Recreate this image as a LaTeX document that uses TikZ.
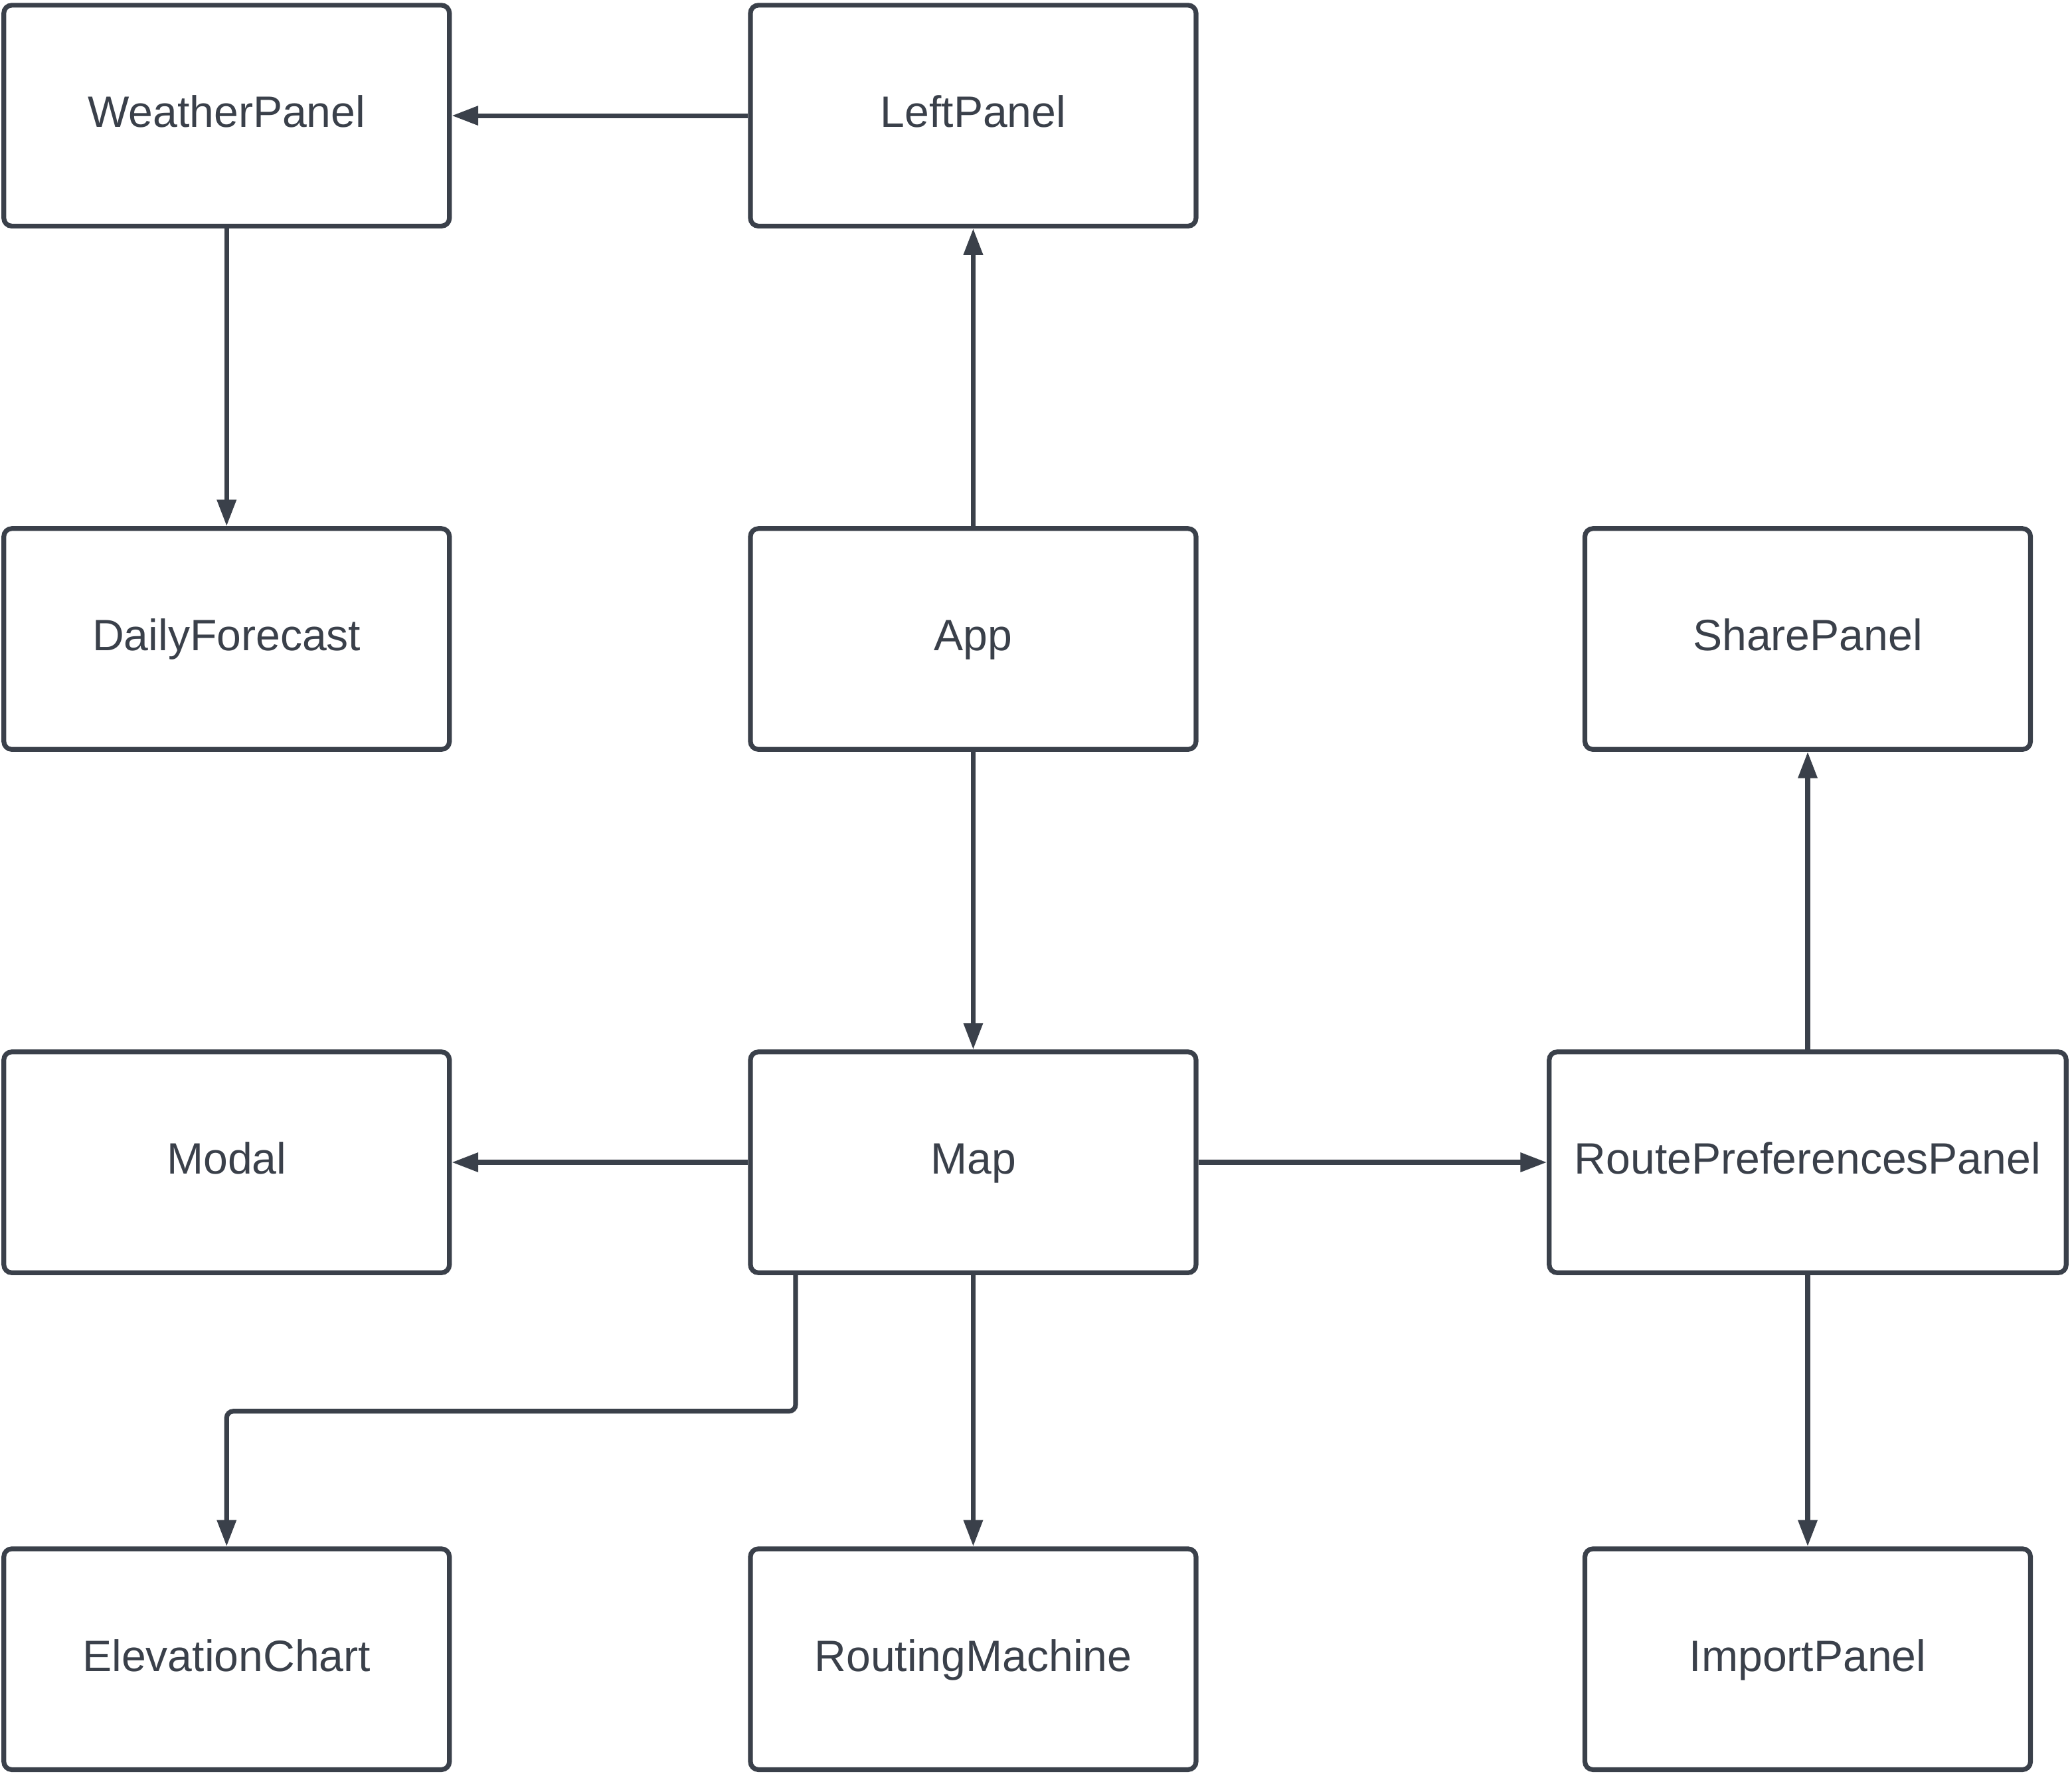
\documentclass[tikz,border=0pt]{standalone}
\usepackage{fontspec}
\setmainfont{Liberation Sans}
\usepackage{tikz}
\usetikzlibrary{arrows.meta, calc}
\definecolor{linegray}{RGB}{58,64,74}

\begin{document}
\begin{tikzpicture}[x=0.01cm, y=-0.01cm,
        comp/.style={draw=linegray, line width=0.036cm, rounded corners=0.06cm,
            minimum width=3.37cm, minimum height=1.67cm, inner sep=0pt, text=linegray,
            font=\fontsize{9.45pt}{11pt}\selectfont, text height=6.8pt, text depth=1.7pt},
        arr/.style={draw=linegray, line width=0.036cm, -{Triangle[length=0.2cm, width=0.14cm]}}]
        \useasboundingbox (0,0) rectangle (1568,1342);

        % Nodes
        \node[comp] (weather) at (171.5, 87.5) {WeatherPanel};
        \node[comp] (left) at (736.5, 87.5) {LeftPanel};
        \node[comp] (daily) at (171.5, 483.5) {DailyForecast};
        \node[comp] (app) at (736.5, 483.5) {App};
        \node[comp] (share) at (1368, 483.5) {SharePanel};
        \node[comp] (modal) at (171.5, 879.5) {Modal};
        \node[comp] (map) at (736.5, 879.5) {Map};
        \node[comp, minimum width=3.91cm] (routepref) at (1368, 879.5) {RoutePreferencesPanel};
        \node[comp] (elev) at (171.5, 1255.5) {ElevationChart};
        \node[comp] (routing) at (736.5, 1255.5) {RoutingMachine};
        \node[comp] (import) at (1368, 1255.5) {ImportPanel};

        % Arrows
        \draw[arr] (left) -- (weather);
        \draw[arr] (weather) -- (daily);
        \draw[arr] (app) -- (left);
        \draw[arr] (app) -- (map);
        \draw[arr] (map) -- (modal);
        \draw[arr] (map) -- (routepref);
        \draw[arr] (routepref) -- (share);
        \draw[arr] (routepref) -- (import);
        \draw[arr] (map) -- (routing);
        \draw[arr, rounded corners=0.05cm] ($(map.south west)+(36,0)$) -- ++(0,103) -| (elev);

    \end{tikzpicture}
\end{document}
